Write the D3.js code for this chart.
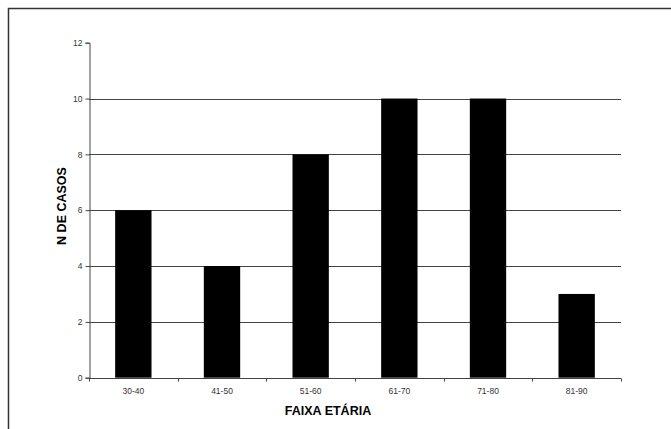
<!DOCTYPE html>
<html>
<head>
<meta charset="utf-8">
<script src="https://cdn.jsdelivr.net/npm/d3@7"></script>
<style>
  html, body { margin: 0; padding: 0; background: #fff; }
  svg { display: block; }
  text { font-family: "Liberation Sans", Arial, sans-serif; }
</style>
</head>
<body>
<script>
// Age groups and number of cases per group
const categories = ["30-40", "41-50", "51-60", "61-70", "71-80", "81-90"];
const cases = [6, 4, 8, 10, 10, 3];
const yTicks = [0, 2, 4, 6, 8, 10, 12];

const W = 671, H = 429;
const plot = { left: 89, right: 621, top: 42.7, bottom: 377.7 };

const svg = d3.select("body").append("svg")
  .attr("width", W).attr("height", H);

// Outer frame (top and left edges)
svg.append("path")
  .attr("d", `M8.5,${H} V8.5 H${W}`)
  .attr("fill", "none")
  .attr("stroke", "#333")
  .attr("stroke-width", 1.5);

const x = d3.scaleBand().domain(categories)
  .range([plot.left, plot.right]).padding(0);
const y = d3.scaleLinear().domain([0, 12])
  .range([plot.bottom, plot.top]);

// Horizontal gridlines
svg.append("g").selectAll("line")
  .data(yTicks.filter(d => d > 0 && d < 12))
  .join("line")
  .attr("x1", plot.left).attr("x2", plot.right)
  .attr("y1", d => Math.round(y(d)) + 0.5)
  .attr("y2", d => Math.round(y(d)) + 0.5)
  .attr("stroke", "#444").attr("stroke-width", 1);

// Bars
const barFrac = 0.41;
svg.append("g").selectAll("rect")
  .data(categories.map((c, i) => ({ c, v: cases[i] })))
  .join("rect")
  .attr("x", d => x(d.c) + x.bandwidth() * (1 - barFrac) / 2)
  .attr("width", x.bandwidth() * barFrac)
  .attr("y", d => y(d.v))
  .attr("height", d => y(0) - y(d.v))
  .attr("fill", "#000");

// Y axis
const yAxis = svg.append("g")
  .attr("transform", `translate(${plot.left + 0.5},0)`)
  .call(d3.axisLeft(y).tickValues(yTicks).tickSize(4).tickPadding(3)
    .tickFormat(d3.format("d")));
yAxis.select(".domain").attr("stroke", "#444");
yAxis.selectAll(".tick line").attr("stroke", "#444");
yAxis.selectAll(".tick text")
  .attr("font-size", "8.5px").attr("fill", "#333")
  .style("font-family", "'Liberation Sans', Arial, sans-serif");

// X axis with ticks at category boundaries
const xAxisG = svg.append("g")
  .attr("transform", `translate(0,${Math.round(plot.bottom) + 0.5})`);
xAxisG.append("line")
  .attr("x1", plot.left).attr("x2", plot.right)
  .attr("stroke", "#444");
const bounds = categories.map(c => x(c)).concat([x(categories[categories.length - 1]) + x.bandwidth()]);
xAxisG.selectAll("line.tk")
  .data(bounds).join("line").attr("class", "tk")
  .attr("x1", d => Math.round(d) + 0.5).attr("x2", d => Math.round(d) + 0.5)
  .attr("y1", 0).attr("y2", 3)
  .attr("stroke", "#444");
xAxisG.selectAll("text")
  .data(categories).join("text")
  .attr("x", d => x(d) + x.bandwidth() / 2)
  .attr("y", 15)
  .attr("text-anchor", "middle")
  .attr("font-size", "8.5px").attr("fill", "#333")
  .text(d => d);

// Axis titles
svg.append("text")
  .attr("x", (plot.left + plot.right) / 2 - 27)
  .attr("y", 415)
  .attr("text-anchor", "middle")
  .attr("font-size", "12.5px").attr("font-weight", "bold")
  .attr("fill", "#000")
  .text("FAIXA ETÁRIA");

svg.append("text")
  .attr("transform", `translate(66,206) rotate(-90)`)
  .attr("text-anchor", "middle")
  .attr("font-size", "12.5px").attr("font-weight", "bold")
  .attr("fill", "#000")
  .text("N DE CASOS");
</script>
</body>
</html>
